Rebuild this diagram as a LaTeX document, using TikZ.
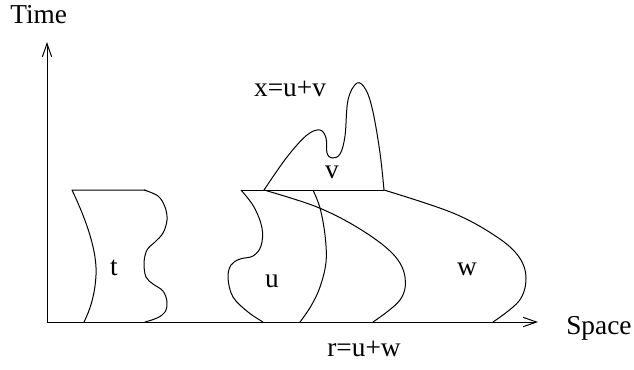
\documentclass[tikz,border=0pt]{standalone}
\usepackage{fontspec}
\setmainfont{Liberation Serif}
\usetikzlibrary{arrows.meta}
\begin{document}
\begin{tikzpicture}[x=0.75pt,y=-0.75pt,
  curve/.style={line width=0.75pt, line join=round},
  axis/.style={line width=0.75pt, -{Straight Barb[length=10pt,width=7pt,line width=0.75pt]}},
  lbl/.style={font=\fontsize{20.5}{23}\selectfont, inner sep=0pt, anchor=base}]
\useasboundingbox (0,0) rectangle (634,369);
% axes
\coordinate (O) at (47,322);
\coordinate (Ytip) at (47,42);
\coordinate (Xtip) at (538,322);
\draw[axis] (O) -- (Ytip);
\draw[axis] (O) -- (Xtip);
\node[lbl, anchor=base west] (time) at (10,23) {Time};
\node[lbl, anchor=base west] (space) at (566,334) {Space};
\node[lbl] (r) at (364,356) {r=u+w};
\node[lbl] (x) at (290,96) {x=u+v};
% region t
\draw[curve] (146,190) -- (72,190)
  .. controls (90,228) and (97,255) .. (96,275)
  .. controls (95,295) and (90,310) .. (84,322);
\draw[curve] plot[smooth, tension=0.6] coordinates {(144,190) (158,196) (165,207) (167,220) (163,233) (155,242) (147,250) (144,263) (146,277) (153,284) (163,291) (167,302) (165,312) (157,318) (145,322)};
\node[lbl] (t) at (114,275) {t};
% top line
\draw[curve] (241,190) -- (384,190);
% u left boundary
\draw[curve] plot[smooth, tension=0.6] coordinates {(241,190) (254,207) (262,228) (261,246) (253,256) (240,259) (231,265) (228,278) (233,297) (248,312) (263,322)};
% middle boundary
\draw[curve] plot[smooth, tension=0.6] coordinates {(313,190) (320,208) (325,235) (326,262) (320,287) (311,306) (300,322)};
% curve B
\draw[curve] plot[smooth, tension=0.6] coordinates {(264,190) (317,207) (360,229) (393,254) (405,277) (400,300) (373,322)};
% curve C
\draw[curve] plot[smooth, tension=0.6] coordinates {(384,190) (453,213) (497,237) (519,257) (526,278) (519,301) (493,322)};
% v region
\draw[curve] plot[smooth, tension=0.6] coordinates {(264,190) (287,157) (307,135) (320,130) (326,138) (327,153) (332,158) (340,154) (345,136) (348,100) (357,83) (366,90) (373,112) (380,153) (384,190)};
\node[lbl] (v) at (332,178) {v};
\node[lbl] (u) at (272,287) {u};
\node[lbl] (w) at (467,275) {w};
\end{tikzpicture}
\end{document}
